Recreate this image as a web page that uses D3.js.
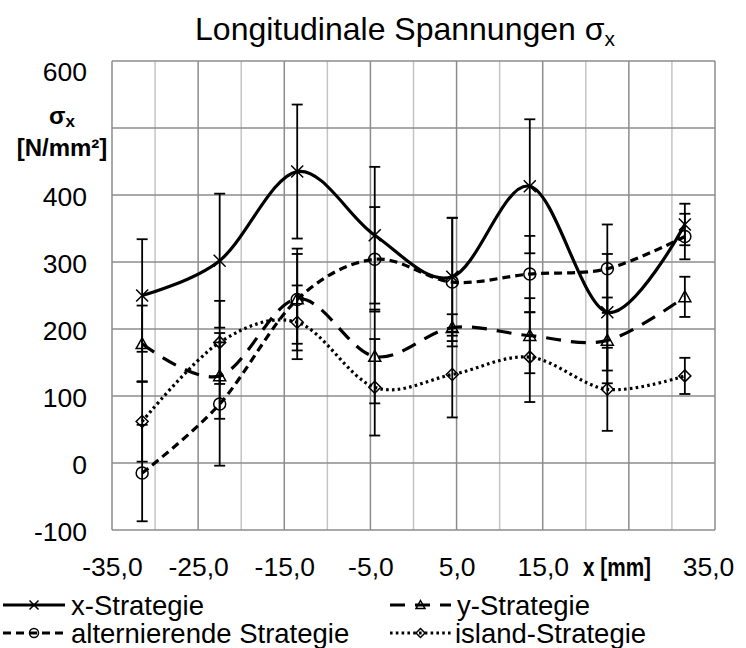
<!DOCTYPE html>
<html>
<head>
<meta charset="utf-8">
<script src="https://cdn.jsdelivr.net/npm/d3@7"></script>
<style>
  body { margin: 0; background: #fff; }
  svg { font-family: "Liberation Sans", Arial, sans-serif; }
</style>
</head>
<body>
<svg id="chart"></svg>
<script>
var chartWidth = 746;
var chartHeight = 648;

/********
 * Data *
 ********/

var seriesNames = ["x-Strategie", "y-Strategie", "alternierende Strategie", "island-Strategie"];
var xValues = [-31.5, -22.5, -13.5, -4.5, 4.5, 13.5, 22.5, 31.5];

var xStrategie = [250, 302, 435, 340, 278, 413, 225, 356];
var xStrategieErr = [84, 100, 100, 102, 88, 100, 87, 31];
var yStrategie = [178, 130, 245, 159, 202, 190, 183, 248];
var yStrategieErr = [57, 64, 67, 70, 20, 56, 64, 30];
var altStrategie = [-15, 88, 244, 304, 270, 282, 290, 338];
var altStrategieErr = [72, 92, 76, 78, 96, 57, 66, 34];
var islandStrategie = [62, 180, 210, 113, 132, 158, 110, 130];
var islandStrategieErr = [60, 62, 55, 72, 64, 67, 62, 27];

var xTickValues = [-35, -25, -15, -5, 5, 15, 35];
var yTickValues = [-100, 0, 100, 200, 300, 400, 600];

/**********
 * Scales *
 **********/

var plotLeft = 112, plotRight = 715, plotTop = 61, plotBottom = 530;

var x = d3.scaleLinear().domain([-35, 35]).range([plotLeft, plotRight]);
var y = d3.scaleLinear().domain([-100, 600]).range([plotBottom, plotTop]);

var svg = d3.select("#chart")
    .attr("width", chartWidth)
    .attr("height", chartHeight);

/*************
 * Gridlines *
 *************/

var grid = svg.append("g");

// vertical lines every 5 mm, darker on the labelled ones
grid.selectAll("line.v")
    .data(d3.range(-35, 36, 5))
    .enter().append("line")
    .attr("x1", function(d) { return x(d); })
    .attr("x2", function(d) { return x(d); })
    .attr("y1", plotTop)
    .attr("y2", plotBottom)
    .attr("stroke", function(d) { return Math.abs(d) % 10 == 5 ? "#8c8c8c" : "#c4c4c4"; })
    .attr("stroke-width", 1.5);

grid.selectAll("line.h")
    .data(d3.range(-100, 601, 100))
    .enter().append("line")
    .attr("x1", plotLeft)
    .attr("x2", plotRight)
    .attr("y1", function(d) { return y(d); })
    .attr("y2", function(d) { return y(d); })
    .attr("stroke", "#8c8c8c")
    .attr("stroke-width", 1.5);

/********
 * Axes *
 ********/

var fmtX = function(d) { return d3.format(".1f")(d).replace("−", "-").replace(".", ","); };
var fmtY = function(d) { return d3.format("d")(d).replace("−", "-"); };

var xAxis = d3.axisBottom(x)
    .tickValues(xTickValues)
    .tickSize(0)
    .tickPadding(0)
    .tickFormat(fmtX);

var xAxisGroup = svg.append("g")
    .attr("transform", "translate(0," + plotBottom + ")")
    .call(xAxis);
xAxisGroup.select(".domain").remove();
xAxisGroup.selectAll("text")
    .attr("y", 46)
    .attr("dy", 0)
    .attr("font-size", 26.5)
    .attr("font-family", "Liberation Sans, Arial, sans-serif")
    .attr("fill", "#000")
    .attr("dx", function(d) { return d == 35 ? -7 : 0; });

// axis title sits where the 25,0 label would be
svg.append("text")
    .attr("x", 583)
    .attr("y", plotBottom + 46)
    .attr("font-size", 26)
    .attr("font-weight", "bold")
    .attr("textLength", 68)
    .attr("lengthAdjust", "spacingAndGlyphs")
    .text("x [mm]");

var yAxis = d3.axisLeft(y)
    .tickValues(yTickValues)
    .tickSize(0)
    .tickPadding(0)
    .tickFormat(fmtY);

var yAxisGroup = svg.append("g")
    .attr("transform", "translate(87,0)")
    .call(yAxis);
yAxisGroup.select(".domain").remove();
yAxisGroup.selectAll("text")
    .attr("x", 0)
    .attr("dy", function(d) { return d == 600 ? 19 : 10; })
    .attr("font-size", 26.5)
    .attr("font-family", "Liberation Sans, Arial, sans-serif")
    .attr("fill", "#000");

// y axis title
var yTitle = svg.append("text")
    .attr("x", 62)
    .attr("y", 124)
    .attr("text-anchor", "middle")
    .attr("font-size", 24)
    .attr("font-weight", "bold");
yTitle.append("tspan").text("σ");
yTitle.append("tspan").attr("font-size", 17).attr("dy", 3).text("x");

svg.append("text")
    .attr("x", 62)
    .attr("y", 156)
    .attr("text-anchor", "middle")
    .attr("font-size", 24)
    .attr("font-weight", "bold")
    .text("[N/mm²]");

// chart title
var title = svg.append("text")
    .attr("x", 405)
    .attr("y", 40)
    .attr("text-anchor", "middle")
    .attr("font-size", 32);
title.append("tspan").text("Longitudinale Spannungen σ");
title.append("tspan").attr("font-size", 21).attr("dy", 6).text("x");

/**********
 * Series *
 **********/

var series = [
    { name: seriesNames[0], values: xStrategie, err: xStrategieErr, dash: null, marker: "cross" },
    { name: seriesNames[1], values: yStrategie, err: yStrategieErr, dash: "15,10", marker: "triangle" },
    { name: seriesNames[2], values: altStrategie, err: altStrategieErr, dash: "8,5", marker: "circle" },
    { name: seriesNames[3], values: islandStrategie, err: islandStrategieErr, dash: "2.6,3.2", marker: "diamond" }
];

var line = d3.line()
    .x(function(d) { return x(d.x); })
    .y(function(d) { return y(d.v); })
    .curve(d3.curveCardinal.tension(0));

function points(s) {
    return s.values.map(function(v, i) { return { x: xValues[i], v: v, e: s.err[i] }; });
}

series.forEach(function(s) {
    svg.append("path")
        .datum(points(s))
        .attr("d", line)
        .attr("fill", "none")
        .attr("stroke", "#000")
        .attr("stroke-width", 3.2)
        .attr("stroke-dasharray", s.dash);
});

function drawMarker(g, type, cx, cy, size) {
    if (type == "cross") {
        g.append("path")
            .attr("d", "M" + (cx - size) + "," + (cy - size) + "L" + (cx + size) + "," + (cy + size) +
                "M" + (cx - size) + "," + (cy + size) + "L" + (cx + size) + "," + (cy - size))
            .attr("stroke", "#000").attr("stroke-width", 1.5).attr("fill", "none");
    } else if (type == "triangle") {
        g.append("path")
            .attr("d", "M" + cx + "," + (cy - size) + "L" + (cx + size) + "," + (cy + size * 0.8) +
                "L" + (cx - size) + "," + (cy + size * 0.8) + "Z")
            .attr("stroke", "#000").attr("stroke-width", 1.5).attr("fill", "none");
    } else if (type == "circle") {
        g.append("circle")
            .attr("cx", cx).attr("cy", cy).attr("r", size)
            .attr("stroke", "#000").attr("stroke-width", 1.5).attr("fill", "none");
    } else {
        g.append("path")
            .attr("d", "M" + cx + "," + (cy - size) + "L" + (cx + size) + "," + cy +
                "L" + cx + "," + (cy + size) + "L" + (cx - size) + "," + cy + "Z")
            .attr("stroke", "#000").attr("stroke-width", 1.5).attr("fill", "none");
    }
}

var markers = svg.append("g");
series.forEach(function(s) {
    points(s).forEach(function(p) {
        drawMarker(markers, s.marker, x(p.x), y(p.v), 6);
    });
});

// error bars
var bars = svg.append("g");
series.forEach(function(s) {
    var g = bars.selectAll(null)
        .data(points(s))
        .enter().append("g");
    g.append("line")
        .attr("x1", function(d) { return x(d.x); })
        .attr("x2", function(d) { return x(d.x); })
        .attr("y1", function(d) { return y(d.v + d.e); })
        .attr("y2", function(d) { return y(d.v - d.e); })
        .attr("stroke", "#000").attr("stroke-width", 1.8);
    [1, -1].forEach(function(sign) {
        g.append("line")
            .attr("x1", function(d) { return x(d.x) - 5.5; })
            .attr("x2", function(d) { return x(d.x) + 5.5; })
            .attr("y1", function(d) { return y(d.v + sign * d.e); })
            .attr("y2", function(d) { return y(d.v + sign * d.e); })
            .attr("stroke", "#000").attr("stroke-width", 1.8);
    });
});

/**********
 * Legend *
 **********/

var legendPos = [
    { x0: 3, x1: 65, y: 605, tx: 71 },
    { x0: 390, x1: 451, y: 605, tx: 457 },
    { x0: 3, x1: 65, y: 633, tx: 71 },
    { x0: 390, x1: 451, y: 633, tx: 455 }
];

var legend = svg.append("g");
series.forEach(function(s, i) {
    var p = legendPos[i];
    legend.append("line")
        .attr("x1", p.x0).attr("x2", p.x1)
        .attr("y1", p.y).attr("y2", p.y)
        .attr("stroke", "#000")
        .attr("stroke-width", 3)
        .attr("stroke-dasharray", s.dash);
    drawMarker(legend, s.marker, (p.x0 + p.x1) / 2, p.y, 4.5);
    legend.append("text")
        .attr("x", p.tx)
        .attr("y", p.y + 10)
        .attr("font-size", 27.5)
        .text(s.name);
});
</script>
</body>
</html>
